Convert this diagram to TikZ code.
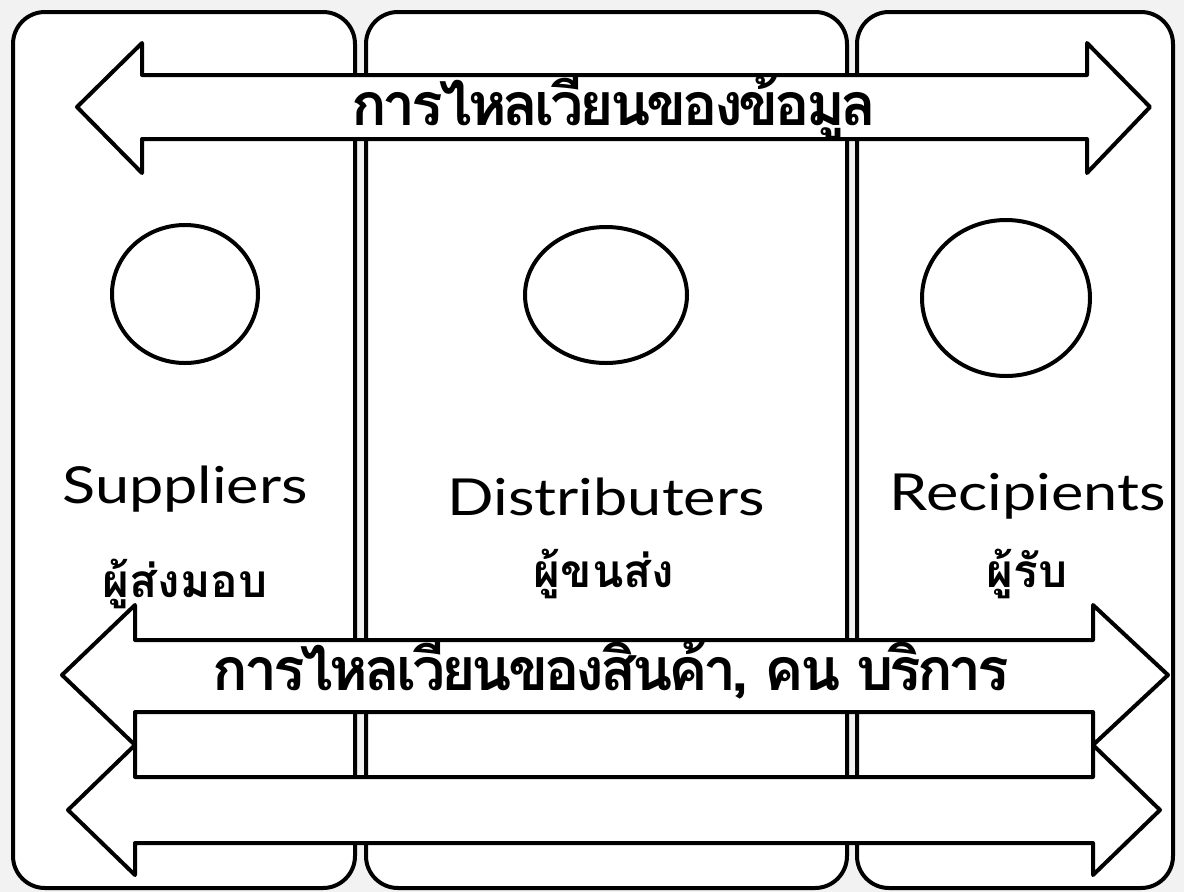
\documentclass[tikz,border=0pt]{standalone}
\usepackage{fontspec}
\newfontfamily\thaifont[Script=Thai]{Loma}
\newfontfamily\thaitight[Script=Thai,LetterSpace=-7]{Loma}
\newfontfamily\latofont{Lato}
\newcommand{\widen}[1]{\scalebox{1.2}[1]{#1}}
\begin{document}
\begin{tikzpicture}[x=1pt,y=-1pt,
  col/.style={draw=black,line width=4pt,fill=white,rounded corners=32pt},
  bigarrow/.style={draw=black,line width=4pt,fill=white,line join=round},
  ring/.style={draw=black,line width=4pt,fill=white},
  entxt/.style={anchor=base,inner sep=0pt,font=\latofont\fontsize{51}{56}\selectfont},
  thlabel/.style={anchor=base,inner sep=0pt,font=\thaifont\bfseries\fontsize{46}{52}\selectfont},
  thflow/.style={anchor=base,inner sep=0pt,font=\thaitight\bfseries\fontsize{59}{64}\selectfont}]
\useasboundingbox (0,0) rectangle (1184,892);
\fill[gray!10] (0,0) rectangle (1184,892);
% columns
\draw[col] (13,12) rectangle (355,888);
\draw[col] (366,12) rectangle (847,888);
\draw[col] (857,12) rectangle (1173,888);
% circles
\draw[ring] (185,294) ellipse [x radius=73, y radius=69];
\draw[ring] (606,295) ellipse [x radius=81, y radius=68];
\draw[ring] (1006,298) ellipse [x radius=84, y radius=78];
% labels
\node[entxt] (sup) at (185,503) {\widen{Suppliers}};
\node[thlabel] (supth) at (185,597) {ผู้ส่งมอบ};
\node[entxt] (dis) at (606,515) {\widen{Distributers}};
\node[thlabel] (disth) at (604,587) {ผู้ขนส่ง};
\node[entxt] (rec) at (1028,510) {\widen{Recipients}};
\node[thlabel] (recth) at (1027,587) {ผู้รับ};
% bottom arrow 2
\draw[bigarrow] (68,810) -- (135,745) -- (135,777) -- (1093,777) -- (1093,745) -- (1160,810)
  -- (1093,875) -- (1093,843) -- (135,843) -- (135,875) -- cycle;
% bottom arrow 1
\draw[bigarrow] (62,675) -- (135,605) -- (135,640) -- (1093,640) -- (1093,605) -- (1168,675)
  -- (1093,745) -- (1093,712) -- (135,712) -- (135,745) -- cycle;
% top arrow
\draw[bigarrow] (77,107) -- (142,43) -- (142,75) -- (1087,75) -- (1087,43) -- (1150,107)
  -- (1087,173) -- (1087,139) -- (142,139) -- (142,173) -- cycle;
\node[thflow] (info) at (614,125) {การไหลเวียนของข้อมูล};
\node[thflow] (goods) at (611,690) {การไหลเวียนของสินค้า, คน บริการ};
\end{tikzpicture}
\end{document}
